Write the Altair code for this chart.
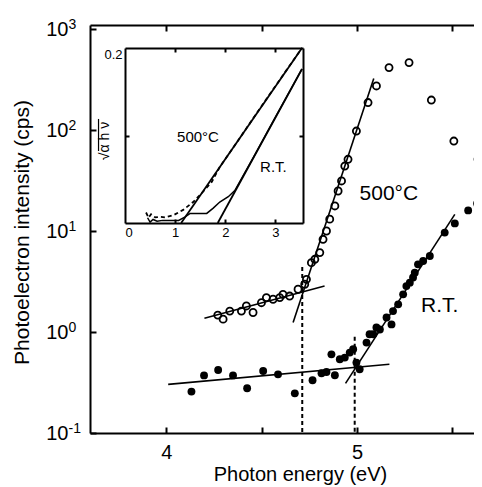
import altair as alt
import pandas as pd

# ---------------- main panel data ----------------
e_500 = [4.27, 4.298, 4.333, 4.394, 4.42, 4.455, 4.499, 4.525, 4.56, 4.595,
         4.612, 4.647, 4.691, 4.726, 4.735, 4.761, 4.779, 4.805, 4.822, 4.84,
         4.857, 4.884, 4.901, 4.919, 4.936, 4.953, 4.997, 5.058, 5.102, 5.168,
         5.273, 5.39, 5.508, 5.635]
i_500 = [1.47, 1.34, 1.61, 1.61, 1.81, 1.56, 1.95, 2.19, 2.11, 2.19,
         2.36, 2.27, 2.65, 2.97, 3.32, 4.86, 5.25, 6.11, 8.28, 10.0,
         13.1, 17.7, 24.9, 31.3, 44.0, 51.3, 97.7, 187, 273, 415,
         465, 198, 77.8, 51.3]

e_rt = [4.132, 4.198, 4.272, 4.35, 4.424, 4.508, 4.586, 4.674, 4.767, 4.814,
        4.84, 4.866, 4.884, 4.91, 4.936, 4.962, 4.98, 4.997, 5.014, 5.05,
        5.066, 5.085, 5.102, 5.12, 5.155, 5.181, 5.189, 5.216, 5.242, 5.259,
        5.277, 5.294, 5.303, 5.32, 5.347, 5.382, 5.46, 5.513, 5.583, 5.63]
i_rt = [0.257, 0.372, 0.42, 0.372, 0.277, 0.411, 0.381, 0.247, 0.333, 0.39,
        0.402, 0.601, 0.373, 0.537, 0.558, 0.625, 0.674, 0.498, 0.428, 0.785,
        0.95, 0.95, 1.11, 1.06, 1.39, 1.19, 1.61, 1.88, 2.36, 2.85,
        3.08, 3.46, 3.87, 4.68, 5.05, 5.65, 9.64, 11.9, 16.0, 18.7]

# fitted straight lines (end points)
fit_seg = ["a", "a", "b", "b", "c", "c", "d", "d"]
fit_e = [4.20, 4.83, 4.665, 5.088, 4.01, 5.17, 4.94, 5.513]
fit_i = [1.37, 2.85, 1.24, 323, 0.303, 0.479, 0.310, 14.6]

# dashed threshold drop lines
drop_seg = ["a", "a", "b", "b"]
drop_e = [4.713, 4.713, 4.988, 4.988]
drop_i = [4.4, 0.1, 0.9, 0.1]

lab_text = ["500°C", "R.T."]
lab_e = [5.167, 5.434]
lab_i = [23.1, 1.80]

main_x_ticks = [4, 4.5, 5, 5.5]
main_x_labels = [4, 5]
main_y_ticks = [0.1, 1, 10, 100, 1000]

# ---------------- inset data ----------------
ins500_x = [0.42, 0.47, 0.52, 0.60, 0.70, 0.80, 0.97, 1.16, 1.36, 1.56,
            1.73, 1.89, 2.3, 2.8, 3.2, 3.53]
ins500_y = [0.012, 0.006, 0.010, 0.0065, 0.007, 0.0065, 0.009, 0.015, 0.024, 0.036,
            0.047, 0.064, 0.098, 0.140, 0.173, 0.200]
insrt_x = [0.45, 0.50, 0.56, 0.64, 0.75, 0.90, 1.07, 1.20, 1.30, 1.45,
           1.63, 1.76, 1.89, 2.06, 2.19, 2.6, 3.0, 3.53]
insrt_y = [0.006, 0.001, 0.004, 0.002, 0.003, 0.003, 0.003, 0.007, 0.011, 0.011,
           0.011, 0.017, 0.024, 0.030, 0.037, 0.079, 0.121, 0.176]
insfit_seg = ["a", "a", "b", "b"]
insfit_x = [1.12, 3.53, 1.85, 3.53]
insfit_y = [0.0, 0.200, 0.0, 0.176]
inslab_text = ["500°C", "R.T."]
inslab_x = [1.455, 2.96]
inslab_y = [0.098, 0.064]
# inset y-axis label (rotated) and the vinculum of its square-root sign
ins_ytitle = "√α h ν"
ins_ytitle_x = [-0.399]
ins_ytitle_y = [0.0937]
vinc_x = [-0.528, -0.528]
vinc_y = [0.0823, 0.1189]

FONT = "Liberation Sans"
W, H = 384, 408
# inset placement inside the plot area (pixels of the plot area)
IX0, IX1, IY0, IY1 = 35, 213, 198, 23

xs = alt.Scale(domain=[3.6, 5.6136], nice=False, zero=False)
ys = alt.Scale(type="log", domain=[0.1, 1096], nice=False)
ixs = alt.Scale(domain=[0, 3.55], range=[IX0, IX1], nice=False, zero=False)
iys = alt.Scale(domain=[0, 0.2], range=[IY0, IY1], nice=False, zero=False)

df500 = pd.DataFrame({"E": e_500, "I": i_500})
dfrt = pd.DataFrame({"E": e_rt, "I": i_rt})
dffit = pd.DataFrame({"E": fit_e, "I": fit_i, "seg": fit_seg})
dfdrop = pd.DataFrame({"E": drop_e, "I": drop_i, "seg": drop_seg})
dflab = pd.DataFrame({"E": lab_e, "I": lab_i, "t": lab_text})

main_x_axis = alt.Axis(orient="bottom", values=main_x_labels, format="d", ticks=False,
                       domain=True, domainWidth=2, labelFontSize=20, labelPadding=9,
                       title="Photon energy (eV)", titleFontSize=20, titleFontWeight="normal",
                       titleX=210, titleY=47, titleBaseline="alphabetic", titleAlign="center")
main_y_axis = alt.Axis(orient="left", values=main_y_ticks, labelExpr="'10'", ticks=False,
                       domain=True, domainWidth=2, labelFontSize=20, labelPadding=22,
                       labelAlign="right", labelBaseline="middle",
                       title="Photoelectron intensity (cps)", titleFontSize=21,
                       titleFontWeight="normal", titleX=-68, titleY=207,
                       titleBaseline="middle", titleAlign="center")

fits = alt.Chart(dffit).mark_line(color="black", strokeWidth=1.6).encode(
    x=alt.X("E:Q", scale=xs, axis=main_x_axis),
    y=alt.Y("I:Q", scale=ys, axis=main_y_axis),
    detail="seg:N")
drops = alt.Chart(dfdrop).mark_line(color="black", strokeWidth=2, strokeDash=[4, 3]).encode(
    x=alt.X("E:Q", scale=xs, axis=None),
    y=alt.Y("I:Q", scale=ys, axis=None),
    detail="seg:N")
pts500 = alt.Chart(df500).mark_point(shape="circle", filled=False, size=50, strokeWidth=1.8,
                                     color="black", opacity=1).encode(
    x=alt.X("E:Q", scale=xs, axis=None),
    y=alt.Y("I:Q", scale=ys, axis=None))
ptsrt = alt.Chart(dfrt).mark_circle(size=62, color="black", opacity=1).encode(
    x=alt.X("E:Q", scale=xs, axis=None),
    y=alt.Y("I:Q", scale=ys, axis=None))
labs = alt.Chart(dflab).mark_text(font=FONT, fontSize=21, color="black",
                                  align="center", baseline="middle").encode(
    x=alt.X("E:Q", scale=xs, axis=None),
    y=alt.Y("I:Q", scale=ys, axis=None),
    text="t:N")

dfxt = pd.DataFrame({"v": main_x_ticks})
dfyt = pd.DataFrame({"v": main_y_ticks})

exp_expr = ("datum.value < 0.5 ? '-1' : datum.value < 5 ? '0' : "
            "datum.value < 50 ? '1' : datum.value < 500 ? '2' : '3'")
exps = alt.Chart(dfyt).mark_point(opacity=0).encode(
    y=alt.Y("v:Q", scale=ys, axis=alt.Axis(orient="left", values=main_y_ticks, labelExpr=exp_expr,
                                           ticks=False, domain=False, labelFontSize=14,
                                           labelPadding=22, labelAlign="left",
                                           labelBaseline="middle", labelOffset=-5, title="")))


def xticks(df, scale, values, orient, offset, domain, size):
    return alt.Chart(df).mark_point(opacity=0).encode(
        x=alt.X("v:Q", scale=scale,
                axis=alt.Axis(orient=orient, offset=offset, values=values, labels=False,
                              domain=domain, domainWidth=2, ticks=True, tickSize=size,
                              tickWidth=2, title="")))


def yticks(df, scale, values, orient, offset, domain, size):
    return alt.Chart(df).mark_point(opacity=0).encode(
        y=alt.Y("v:Q", scale=scale,
                axis=alt.Axis(orient=orient, offset=offset, values=values, labels=False,
                              domain=domain, domainWidth=2, ticks=True, tickSize=size,
                              tickWidth=2, title="")))


tb = xticks(dfxt, xs, main_x_ticks, "top", -H, False, 6)      # inward ticks on bottom
tt = xticks(dfxt, xs, main_x_ticks, "bottom", -H, True, 6)    # top border + ticks
tl = yticks(dfyt, ys, main_y_ticks, "right", -W, False, 6)    # inward ticks on left

# ---------------- inset ----------------
dfi500 = pd.DataFrame({"x": ins500_x, "y": ins500_y})
dfirt = pd.DataFrame({"x": insrt_x, "y": insrt_y})
dfifit = pd.DataFrame({"x": insfit_x, "y": insfit_y, "seg": insfit_seg})
dfilab = pd.DataFrame({"x": inslab_x, "y": inslab_y, "t": inslab_text})
dfiyt_title = pd.DataFrame({"x": ins_ytitle_x, "y": ins_ytitle_y, "t": [ins_ytitle]})
dfvinc = pd.DataFrame({"x": vinc_x, "y": vinc_y})

ins_x_axis = alt.Axis(orient="bottom", offset=IY0 - H, values=[0, 1, 2, 3], format="d",
                      ticks=False, domain=True, domainWidth=2, labelFontSize=13,
                      labelPadding=3, title="")
ins_y_axis = alt.Axis(orient="left", offset=-IX0, values=[0.2], format=".1f", ticks=False,
                      domain=True, domainWidth=2, labelFontSize=13, labelPadding=3,
                      labelBaseline="top", title="")

ifit = alt.Chart(dfifit).mark_line(color="black", strokeWidth=1.8).encode(
    x=alt.X("x:Q", scale=ixs, axis=ins_x_axis),
    y=alt.Y("y:Q", scale=iys, axis=ins_y_axis),
    detail="seg:N")
i500 = alt.Chart(dfi500).mark_line(color="black", strokeWidth=1.8, strokeDash=[4, 3]).encode(
    x=alt.X("x:Q", scale=ixs, axis=None),
    y=alt.Y("y:Q", scale=iys, axis=None))
irt = alt.Chart(dfirt).mark_line(color="black", strokeWidth=1.5).encode(
    x=alt.X("x:Q", scale=ixs, axis=None),
    y=alt.Y("y:Q", scale=iys, axis=None))
ilab = alt.Chart(dfilab).mark_text(font=FONT, fontSize=15, color="black",
                                   align="center", baseline="middle").encode(
    x=alt.X("x:Q", scale=ixs, axis=None),
    y=alt.Y("y:Q", scale=iys, axis=None),
    text="t:N")
iytitle = alt.Chart(dfiyt_title).mark_text(font=FONT, fontSize=14, color="black", angle=270,
                                           align="center", baseline="middle").encode(
    x=alt.X("x:Q", scale=ixs, axis=None),
    y=alt.Y("y:Q", scale=iys, axis=None),
    text="t:N")
ivinc = alt.Chart(dfvinc).mark_line(color="black", strokeWidth=1.2).encode(
    x=alt.X("x:Q", scale=ixs, axis=None),
    y=alt.Y("y:Q", scale=iys, axis=None))

dfixt = pd.DataFrame({"v": [1, 2, 3]})
dfiyt = pd.DataFrame({"v": [0.1]})
itb = xticks(dfixt, ixs, [1, 2, 3], "top", -IY0, False, 4)
itt = xticks(dfixt, ixs, [1, 2, 3], "bottom", IY1 - H, True, 4)
itl = yticks(dfiyt, iys, [0.1], "right", IX0 - W, False, 4)
itr = yticks(dfiyt, iys, [0.1], "left", -IX1, True, 4)

chart = alt.layer(fits, drops, pts500, ptsrt, labs, exps, tb, tt, tl,
                  ifit, i500, irt, ilab, iytitle, ivinc, itb, itt, itl, itr).resolve_scale(
    x="independent", y="independent").resolve_axis(
    x="independent", y="independent").properties(
    width=W, height=H,
    autosize=alt.AutoSizeParams(type="none"),
    padding={"left": 82, "top": 17, "right": 0, "bottom": 55},
).configure_view(strokeWidth=0).configure_axis(
    grid=False, labelFont=FONT, titleFont=FONT, labelColor="black", titleColor="black",
    domainColor="black", tickColor="black")

chart.save("out.html", embed_options={"renderer": "svg", "actions": False})
